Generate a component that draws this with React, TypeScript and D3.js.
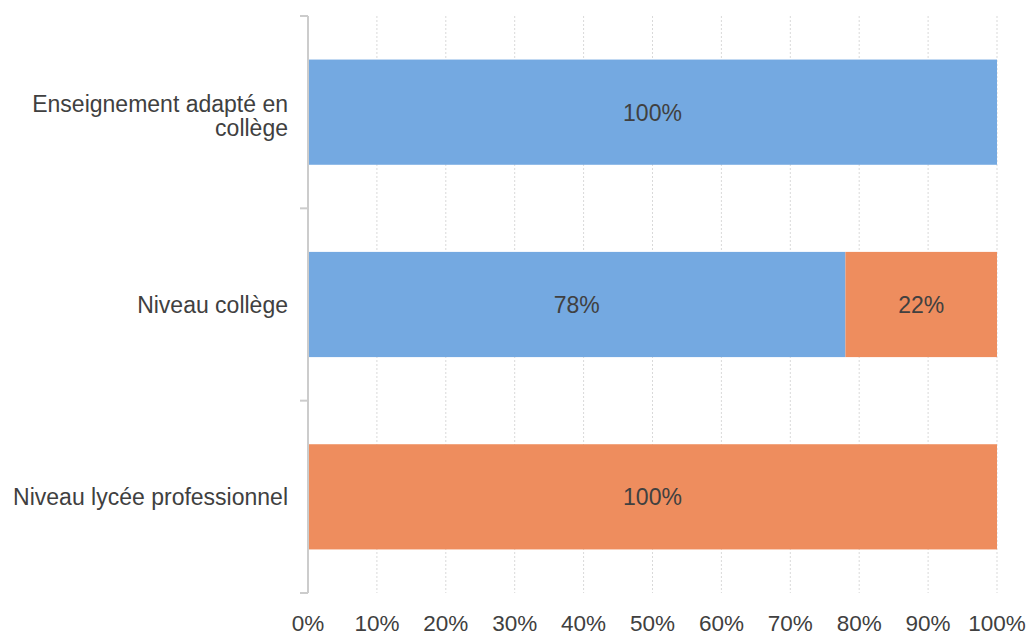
import React from "react";
import * as d3 from "d3";

const categories = ["Enseignement adapté en|collège", "Niveau collège", "Niveau lycée professionnel"];
const seriesA = [100, 78, 0];
const seriesB = [0, 22, 100];
const ticks = [0, 10, 20, 30, 40, 50, 60, 70, 80, 90, 100];
const colors = ["#74A9E1", "#EE8D5E"];

export default function App() {
  const W = 1026, H = 632;
  const x = d3.scaleLinear().domain([0, 100]).range([308, 997]);
  const y = d3.scaleBand().domain(categories).range([16, 593]).paddingInner(0.453).paddingOuter(0.2265);
  const font = "'Liberation Sans', Arial, sans-serif";
  const series = [seriesA, seriesB];
  return (
    <svg width={W} height={H} style={{ position: "absolute", left: 0, top: 0 }} fontFamily={font}>
      {ticks.slice(1).map((t) => (
        <line key={t} x1={x(t)} x2={x(t)} y1={16} y2={593} stroke="#d9d9d9" strokeWidth={1} strokeDasharray="2,2" />
      ))}
      {categories.map((c, i) => {
        let acc = 0;
        return (
          <g key={c}>
            {series.map((s, k) => {
              const v = s[i];
              const x0 = acc;
              acc += v;
              if (v <= 0) return null;
              return (
                <g key={k}>
                  <rect x={x(x0)} y={y(c)!} width={x(x0 + v) - x(x0)} height={y.bandwidth()} fill={colors[k]} />
                  <text x={(x(x0) + x(x0 + v)) / 2} y={y(c)! + y.bandwidth() / 2 + 8.5} textAnchor="middle" fontSize={23} fill="#404040">
                    {v}%
                  </text>
                </g>
              );
            })}
          </g>
        );
      })}
      <line x1={308} x2={308} y1={16} y2={593} stroke="#cccccc" strokeWidth={2} />
      {[0, 1, 2, 3].map((k) => {
        const yy = 16 + (577 / 3) * k;
        return <line key={k} x1={300} x2={308} y1={yy} y2={yy} stroke="#cccccc" strokeWidth={2} />;
      })}
      {categories.map((c) => {
        const lines = c.split("|");
        const cy = y(c)! + y.bandwidth() / 2;
        const lh = 24;
        const start = lines.length > 1 ? cy - 0.5 : cy + 8.5;
        return (
          <text key={c} x={288} textAnchor="end" fontSize={23} fill="#404040">
            {lines.map((l, j) => (
              <tspan key={j} x={288} y={start + j * lh}>{l}</tspan>
            ))}
          </text>
        );
      })}
      {ticks.map((t) => (
        <text key={t} x={x(t)} y={631} textAnchor="middle" fontSize={22.5} fill="#404040">
          {t}%
        </text>
      ))}
    </svg>
  );
}
